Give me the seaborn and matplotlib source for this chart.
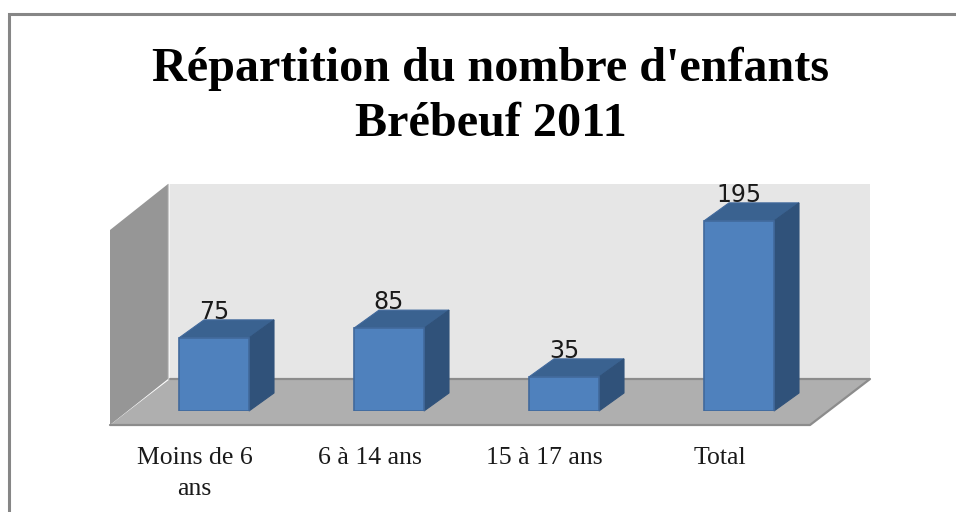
import numpy as np
import pandas as pd
import matplotlib
matplotlib.use("Agg")
import matplotlib.pyplot as plt
import seaborn as sns
from matplotlib.patches import Polygon, Rectangle
from matplotlib.transforms import ScaledTranslation

categories = ["Moins de 6\nans", "6 à 14 ans", "15 à 17 ans", "Total"]
counts = [75, 85, 35, 195]
title_lines = "Répartition du nombre d'enfants\nBrébeuf 2011"

W, H = 956, 512
front = "#4f81bd"
top = "#3a6290"
side = "#30527a"
edge = "#41699c"

sns.set_theme(style="white")
plt.rcParams["font.family"] = ["Liberation Serif", "DejaVu Serif"]

df = pd.DataFrame({"groupe": categories, "n": counts})

fig = plt.figure(figsize=(W / 100, H / 100), dpi=100, facecolor="white")

# pixel canvas for the chart box, walls and floor
bg = fig.add_axes([0, 0, 1, 1])
bg.set_xlim(0, W)
bg.set_ylim(H, 0)
bg.axis("off")
bg.add_patch(Rectangle((9, 14), 1000, 520, fc="white", ec="#868686", lw=2.2))
bg.add_patch(Polygon([(170, 184), (870, 184), (870, 379), (170, 379)], fc="#e6e6e6", ec="none"))
bg.add_patch(Polygon([(110, 230), (168, 184), (168, 379), (110, 425)], fc="#969696", ec="none"))
bg.add_patch(Polygon([(110, 425), (170, 379), (870, 379), (810, 425)], fc="#afafaf", ec="none"))
bg.plot([170, 870, 810, 110], [379, 379, 425, 425], color="#8c8c8c", lw=1.6)
bg.plot([168.5, 168.5], [184, 379], color="#c9c9c9", lw=1)

# bars sit on y=0 at pixel 411, 0.974 px per unit
ax = fig.add_axes([126.5 / W, (H - 411) / H, 700 / W, 195 / H])
ax.patch.set_alpha(0)
sns.barplot(data=df, x="groupe", y="n", color=front, saturation=1, width=0.4,
            edgecolor=edge, linewidth=1.2, ax=ax)
ax.set_xlim(-0.5, 3.5)
ax.set_ylim(0, 200)
ax.set_xlabel("")
ax.set_ylabel("")
ax.set_yticks([])
ax.set_xticks(range(len(categories)))
ax.set_xticklabels(categories, fontsize=18.5, color="#1a1a1a", linespacing=1.55)
ax.tick_params(axis="x", length=0, pad=26)
sns.despine(ax=ax, left=True, bottom=True)

# the labels sit left of their bars in the original
for label in ax.get_xticklabels():
    label.set_transform(label.get_transform() + ScaledTranslation(-0.195, 0, fig.dpi_scale_trans))

# fake depth: offset faces from each bar, in pixels
to_px = ax.transData + bg.transData.inverted()
dx, dy = 25, -18
for bar, n in zip(ax.patches, counts):
    x0, x1 = bar.get_x(), bar.get_x() + bar.get_width()
    (lx, ty), (rx, by) = to_px.transform([(x0, n), (x1, 0)])
    bg.text((lx + rx) / 2, ty - 14, str(n), ha="center", va="bottom", fontsize=17,
            family="DejaVu Sans", color="#1a1a1a", zorder=2.5)
    bg.add_patch(Polygon([(lx, ty), (rx, ty), (rx + dx, ty + dy), (lx + dx, ty + dy)],
                         fc=top, ec=edge, lw=0.8, zorder=3))
    bg.add_patch(Polygon([(rx, ty), (rx + dx, ty + dy), (rx + dx, by + dy), (rx, by)],
                         fc=side, ec=side, lw=0.8, zorder=3))

fig.text(491 / W, 1 - 96 / H, title_lines, ha="center", va="center", fontsize=34.7,
         fontweight="bold", color="black", linespacing=1.33)

fig.savefig("out.png", dpi=100)
